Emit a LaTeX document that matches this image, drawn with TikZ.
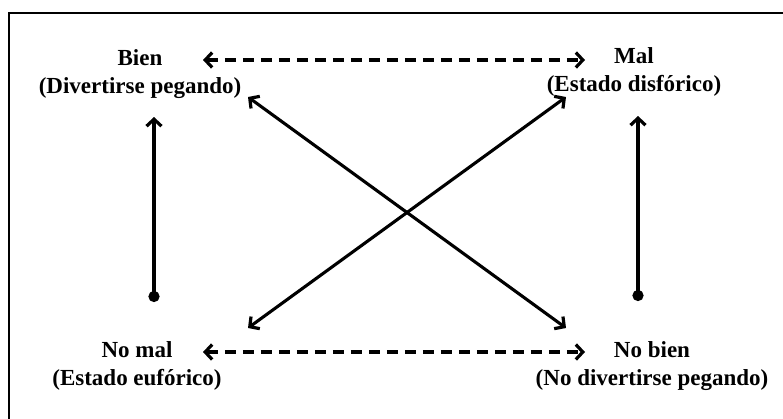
\documentclass[tikz,border=0pt]{standalone}
\usepackage{fontspec}
\setmainfont{Liberation Serif}
\usetikzlibrary{arrows.meta}
\begin{document}
\begin{tikzpicture}[x=1pt,y=-1pt,
  lbl/.style={align=center,font=\fontsize{23}{28}\selectfont\bfseries,inner sep=0pt},
  conn/.style={line width=3.1pt,{Straight Barb[length=7pt,width=15pt,line width=3.2pt]}-{Straight Barb[length=7pt,width=15pt,line width=3.2pt]}},
  dashconn/.style={conn,line width=3.8pt,dash pattern=on 11pt off 7pt},
  vconn/.style={line width=3.6pt,{Circle[length=11pt]}-{Straight Barb[length=7pt,width=15pt,line width=3.2pt]}}]
\useasboundingbox (0,0) rectangle (783,418);
\begin{scope}
\clip (0,0) rectangle (783,418);
\draw[line width=2.9pt] (9,13) rectangle (800,440);
\end{scope}
\node[lbl] (bien) at (140,74) {Bien\\(Divertirse pegando)};
\node[lbl] (mal) at (634,72) {Mal\\(Estado disfórico)};
\node[lbl] (nomal) at (137,366) {No mal\\(Estado eufórico)};
\node[lbl] (nobien) at (652,366) {No bien\\(No divertirse pegando)};
\coordinate (tl) at (203,60);
\coordinate (tr) at (585,60);
\coordinate (bl) at (203,352);
\coordinate (br) at (585,352);
\coordinate (dbien) at (248,97);
\coordinate (dmal) at (566,97);
\coordinate (dnomal) at (248,328);
\coordinate (dnobien) at (566,328);
\coordinate (lbot) at (154,302);
\coordinate (ltop) at (154,117);
\coordinate (rbot) at (638,301);
\coordinate (rtop) at (638,116);
\draw[dashconn] (tl) -- (tr);
\draw[dashconn] (bl) -- (br);
\draw[conn] (dbien) -- (dnobien);
\draw[conn] (dnomal) -- (dmal);
\draw[vconn] (lbot) -- (ltop);
\draw[vconn] (rbot) -- (rtop);
\end{tikzpicture}
\end{document}
